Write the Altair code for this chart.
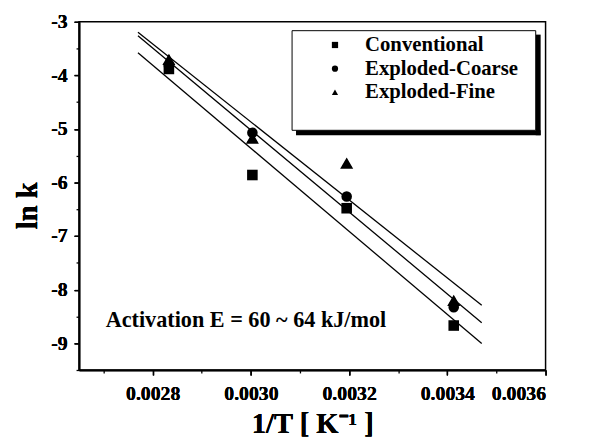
import altair as alt
import pandas as pd

inv_t = [0.002833, 0.003003, 0.003195, 0.003413]
conventional = [-3.88, -5.86, -6.48, -8.67]
exploded_coarse = [-3.82, -5.07, -6.26, -8.33]
exploded_fine = [-3.70, -5.17, -5.64, -8.20]
series_names = ["Conventional", "Exploded-Coarse", "Exploded-Fine"]
shapes = ["square", "circle", "triangle-up"]
x_major = [0.0028, 0.0030, 0.0032, 0.0034, 0.0036]
x_minor = [0.0027, 0.0029, 0.0031, 0.0033, 0.0035]
y_major = [-3, -4, -5, -6, -7, -8, -9]
y_minor = [-3.5, -4.5, -5.5, -6.5, -7.5, -8.5, -9.5]
annotation = "Activation E = 60 ~ 64 kJ/mol"

rows = []
for name, vals in zip(series_names, [conventional, exploded_coarse, exploded_fine]):
    for xv, yv in zip(inv_t, vals):
        rows.append({"x": xv, "y": yv, "series": name})
df = pd.DataFrame(rows)

FONT = "Liberation Serif"
xdom = [0.00265, 0.0036]
ydom = [-9.5, -3]

xs = alt.Scale(domain=xdom, nice=False, zero=False)
ys = alt.Scale(domain=ydom, nice=False, zero=False)

x_axis = alt.Axis(orient="bottom", values=x_major, format=".4f", title="1/T [ K⁻¹ ]",
                  tickSize=5, labelPadding=25, labelBaseline="alphabetic",
                  titleY=63, titleBaseline="alphabetic", grid=False)
y_axis = alt.Axis(orient="left", values=y_major, labelExpr="'' + datum.value", title="ln k",
                  tickSize=5, labelPadding=7, labelBaseline="middle",
                  titleX=-43, titleY=186, titleBaseline="alphabetic", grid=False)
x_axis_minor = alt.Axis(orient="bottom", values=x_minor, labels=False, title=None,
                        tickSize=3, domain=False, grid=False)
y_axis_minor = alt.Axis(orient="left", values=y_minor, labels=False, title=None,
                        tickSize=3, domain=False, grid=False)

base = alt.Chart(df)

lines = base.transform_regression(
    "x", "y", groupby=["series"], extent=[0.00277, 0.00347]
).mark_line(color="black", strokeWidth=1.3).encode(
    x=alt.X("x:Q", scale=xs, axis=x_axis),
    y=alt.Y("y:Q", scale=ys, axis=y_axis),
    detail="series:N",
)

big_tri = base.transform_filter(alt.datum.series == "Exploded-Fine").mark_point(
    shape="triangle-up", filled=True, color="black", opacity=1, size=175
).encode(
    x=alt.X("x:Q", scale=xs, axis=x_axis),
    y=alt.Y("y:Q", scale=ys, axis=y_axis),
)

points = base.mark_point(filled=True, color="black", opacity=1, size=115).encode(
    x=alt.X("x:Q", scale=xs, axis=x_axis),
    y=alt.Y("y:Q", scale=ys, axis=y_axis),
    shape=alt.Shape("series:N", scale=alt.Scale(domain=series_names, range=shapes),
                    legend=alt.Legend(title=None, orient="none", legendX=249, legendY=13,
                                      symbolSize=40, symbolFillColor="black",
                                      symbolStrokeColor="black", labelOffset=20,
                                      labelFontSize=21, labelFont=FONT,
                                      labelFontWeight="bold", rowPadding=2, padding=0)),
)

minor = base.mark_point(opacity=0).encode(
    x=alt.X("x:Q", scale=xs, axis=x_axis_minor),
    y=alt.Y("y:Q", scale=ys, axis=y_axis_minor),
)

box_df = pd.DataFrame({"k": [0]})
shadow_r = alt.Chart(box_df).mark_rect(color="black").encode(
    x=alt.value(463), x2=alt.value(468), y=alt.value(13), y2=alt.value(115))
shadow_b = alt.Chart(box_df).mark_rect(color="black").encode(
    x=alt.value(220), x2=alt.value(468), y=alt.value(110), y2=alt.value(115))
box = alt.Chart(box_df).mark_rect(fill="white", stroke="black", strokeWidth=1).encode(
    x=alt.value(216), x2=alt.value(463), y=alt.value(9), y2=alt.value(110))

text = alt.Chart(pd.DataFrame({"t": [annotation]})).mark_text(
    align="left", baseline="middle", font=FONT, fontSize=22.5, fontWeight="bold", color="black"
).encode(x=alt.value(27), y=alt.value(302), text="t:N")

chart = alt.layer(minor, lines, big_tri, points, shadow_r, shadow_b, box, text).resolve_axis(
    x="independent", y="independent"
).properties(
    width=473, height=353, background="white",
    autosize=alt.AutoSizeParams(type="none"),
    padding={"left": 72, "top": 11, "right": 42, "bottom": 69},
).configure_view(stroke="black", strokeWidth=1.5).configure_axis(
    domainColor="black", domainWidth=1.5, tickColor="black", tickWidth=1.3,
    labelFont=FONT, labelFontSize=20, labelFontWeight="bold", labelColor="black",
    titleFont=FONT, titleFontSize=29, titleFontWeight="bold", titleColor="black",
)

chart.save("out.html", embed_options={"renderer": "svg", "actions": False})
